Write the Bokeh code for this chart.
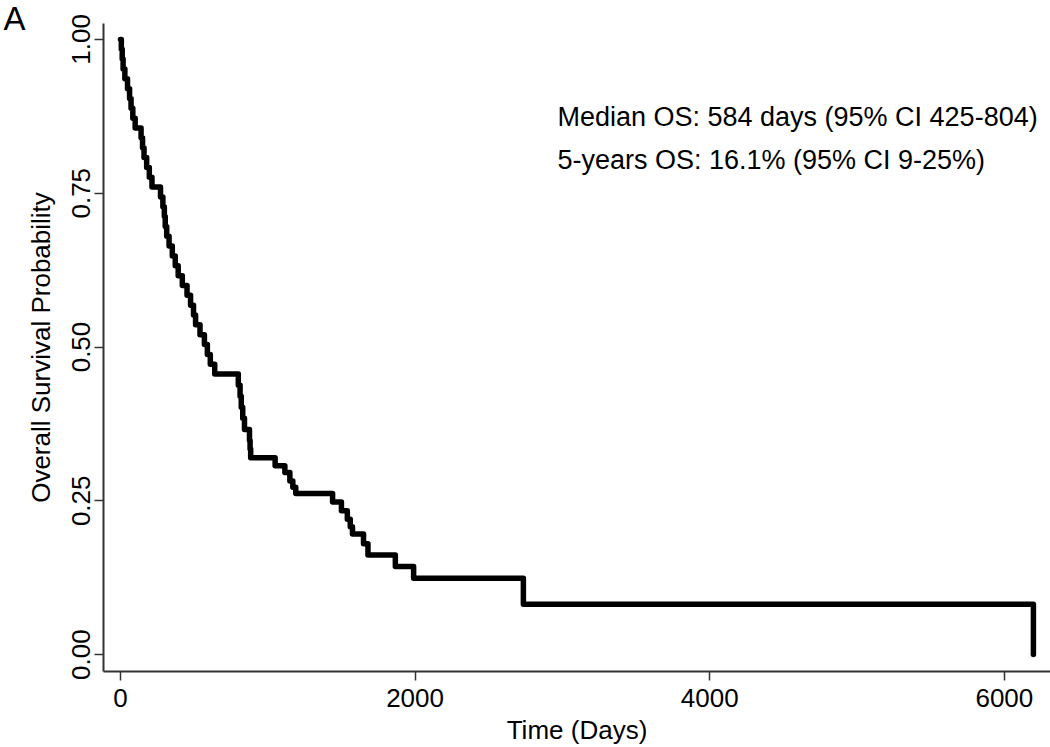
from bokeh.plotting import figure
from bokeh.models import FixedTicker, Label, Range1d, Title
from bokeh.embed import file_html
from bokeh.resources import INLINE

# Kaplan-Meier step data (time in days, survival after event)
times = [0, 6, 12, 18, 30, 48, 62, 72, 84, 100, 140, 150, 160, 178, 196, 214,
         272, 288, 298, 304, 314, 330, 352, 372, 392, 420, 452, 476, 496, 510,
         540, 570, 590, 610, 640, 800, 812, 820, 830, 842, 876, 880, 884,
         1050, 1116, 1150, 1170, 1190, 1440, 1500, 1540, 1560, 1575, 1650,
         1680, 1866, 1990, 2735, 6197]
surv = [1.000, 0.984, 0.968, 0.952, 0.936, 0.920, 0.904, 0.888, 0.872, 0.856,
        0.840, 0.824, 0.808, 0.792, 0.776, 0.760, 0.744, 0.728, 0.712, 0.696,
        0.680, 0.664, 0.648, 0.632, 0.616, 0.600, 0.584, 0.568, 0.552, 0.536,
        0.520, 0.504, 0.488, 0.472, 0.456, 0.438, 0.420, 0.402, 0.384, 0.366,
        0.348, 0.334, 0.320, 0.307, 0.296, 0.282, 0.272, 0.262, 0.248, 0.234,
        0.220, 0.208, 0.196, 0.180, 0.162, 0.143, 0.124, 0.082, 0.000]

x_ticks = [0, 2000, 4000, 6000]
y_ticks = [0.0, 0.25, 0.5, 0.75, 1.0]
y_tick_labels = ["0.00", "0.25", "0.50", "0.75", "1.00"]
annotations = ["Median OS: 584 days (95% CI 425-804)",
               "5-years OS: 16.1% (95% CI 9-25%)"]
panel_letter = "A"

FONT = "Liberation Sans"

p = figure(width=1050, height=747, output_backend="svg", toolbar_location=None,
           x_range=Range1d(-115, 6313), y_range=Range1d(-0.0275, 1.0259),
           min_border_left=103, min_border_right=0, min_border_top=23,
           min_border_bottom=73)

p.step(times, surv, mode="after", line_color="black", line_width=5.5,
       line_join="round", line_cap="round")

p.grid.visible = False
p.outline_line_color = None
p.background_fill_color = "white"

for ax in (p.xaxis[0], p.yaxis[0]):
    ax.axis_line_color = "#333333"
    ax.axis_line_width = 2
    ax.major_tick_line_color = "#333333"
    ax.major_tick_line_width = 1.5
    ax.major_tick_out = 9
    ax.major_tick_in = 0
    ax.minor_tick_line_color = None
    ax.major_label_text_font = FONT
    ax.major_label_text_font_size = "26px"
    ax.major_label_text_color = "black"
    ax.axis_label_text_font = FONT
    ax.axis_label_text_font_size = "26px"
    ax.axis_label_text_font_style = "normal"
    ax.axis_label_text_color = "black"

p.xaxis.ticker = FixedTicker(ticks=x_ticks)
p.xaxis.major_label_overrides = {t: str(t) for t in x_ticks}
p.xaxis.axis_label = "Time (Days)"
p.xaxis.major_label_standoff = 8
p.xaxis.axis_label_standoff = 5

p.yaxis.ticker = FixedTicker(ticks=y_ticks)
p.yaxis.major_label_overrides = dict(zip(y_ticks, y_tick_labels))
p.yaxis.major_label_orientation = "vertical"
p.yaxis.axis_label = "Overall Survival Probability"
p.yaxis.major_label_standoff = 4
p.yaxis.axis_label_standoff = 14

for i, txt in enumerate(annotations):
    p.add_layout(Label(x=2966, y=[0.874, 0.804][i], text=txt,
                       text_font=FONT, text_font_size="27px",
                       text_color="black", text_baseline="middle",
                       text_align="left"))

p.add_layout(Title(text=panel_letter, align="left", offset=-100, standoff=-27,
                   vertical_align="bottom", text_font=FONT,
                   text_font_size="33px", text_font_style="normal",
                   text_color="black"), "above")

open("out.html", "w").write(file_html(p, INLINE))
